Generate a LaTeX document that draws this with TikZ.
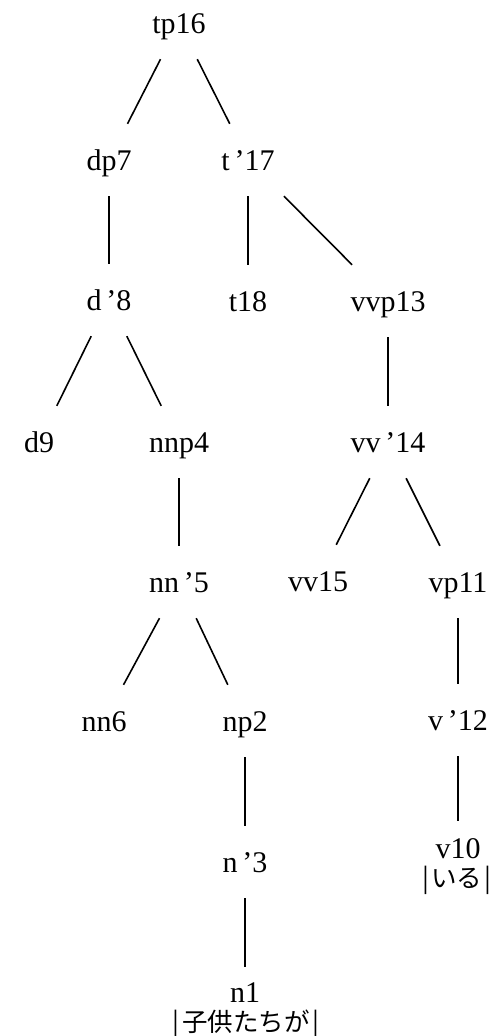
\documentclass[tikz,border=0pt]{standalone}
\usepackage{fontspec}
\setmainfont{Liberation Serif}
\newfontfamily\jp{Noto Sans CJK JP}
\tikzset{
  lab/.style={minimum width=90pt, minimum height=72pt, inner sep=0pt, text height=20pt, text depth=0pt, font=\fontsize{30}{32}\selectfont},
  jtxt/.style={inner sep=0pt, font=\jp\fontsize{25.5}{27}\selectfont},
  edge/.style={line width=1.6pt, black},
}
\begin{document}
\begin{tikzpicture}[x=1pt,y=-1pt]
\useasboundingbox (0,0) rectangle (499,1036);
\node[lab] (tp16) at (179,23) {tp16};
\node[lab] (dp7) at (109,160) {dp7};
\node[lab] (tb17) at (248,160) {t\,’17};
\node[lab] (db8) at (109,300) {d\,’8};
\node[lab] (t18) at (248,301) {t18};
\node[lab] (vvp13) at (388,301) {vvp13};
\node[lab] (d9) at (39,442) {d9};
\node[lab] (nnp4) at (179,442) {nnp4};
\node[lab] (vvb14) at (388,442) {vv\,’14};
\node[lab] (nnb5) at (179,582) {nn\,’5};
\node[lab] (vv15) at (318,581) {vv15};
\node[lab] (vp11) at (458,582) {vp11};
\node[lab] (nn6) at (104,721) {nn6};
\node[lab] (np2) at (245,721) {np2};
\node[lab] (vb12) at (458,720) {v\,’12};
\node[lab] (nb3) at (245,862) {n\,’3};
\node[lab, minimum height=54pt] (v10) at (458,848) {v10};
\node[jtxt] (iru) at (457,880) {|\kern2ptいる\kern2pt|};
\node[lab, minimum height=50pt] (n1) at (245,992) {n1};
\node[jtxt] (kodomo) at (246,1024) {|\kern3pt子供たちが\kern3pt|};
\draw[edge] (tp16) -- (dp7);
\draw[edge] (tp16) -- (tb17);
\draw[edge] (dp7) -- (db8);
\draw[edge] (tb17) -- (t18);
\draw[edge] (tb17) -- (vvp13);
\draw[edge] (db8) -- (d9);
\draw[edge] (db8) -- (nnp4);
\draw[edge] (vvp13) -- (vvb14);
\draw[edge] (nnp4) -- (nnb5);
\draw[edge] (vvb14) -- (vv15);
\draw[edge] (vvb14) -- (vp11);
\draw[edge] (nnb5) -- (nn6);
\draw[edge] (nnb5) -- (np2);
\draw[edge] (vp11) -- (vb12);
\draw[edge] (np2) -- (nb3);
\draw[edge] (vb12) -- (v10);
\draw[edge] (nb3) -- (n1);
\end{tikzpicture}
\end{document}
